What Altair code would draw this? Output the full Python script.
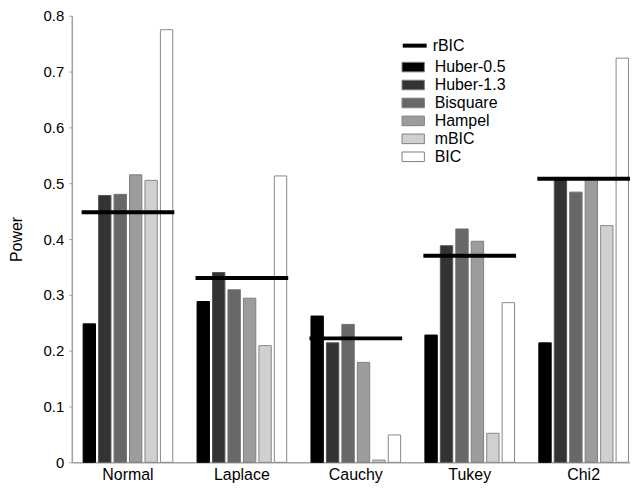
import altair as alt
import pandas as pd

distributions = ["Normal", "Laplace", "Cauchy", "Tukey", "Chi2"]
methods = ["Huber-0.5", "Huber-1.3", "Bisquare", "Hampel", "mBIC", "BIC"]
method_fills = ["#000000", "#333333", "#686868", "#9c9c9c", "#d0d0d0", "#ffffff"]
method_strokes = ["#000000", "#555555", "#707070", "#808080", "#888888", "#888888"]

huber05 = [0.248, 0.288, 0.262, 0.228, 0.214]
huber13 = [0.478, 0.340, 0.214, 0.388, 0.510]
bisquare = [0.480, 0.309, 0.247, 0.418, 0.484]
hampel = [0.515, 0.294, 0.179, 0.396, 0.508]
mbic = [0.505, 0.209, 0.004, 0.052, 0.424]
bic = [0.775, 0.513, 0.049, 0.286, 0.724]
rbic = [0.448, 0.330, 0.222, 0.370, 0.508]

y_ticks = [0, 0.1, 0.2, 0.3, 0.4, 0.5, 0.6, 0.7, 0.8]

series = [huber05, huber13, bisquare, hampel, mbic, bic]
rows = []
for m, vals in zip(methods, series):
    for d, v in zip(distributions, vals):
        rows.append({"dist": d, "method": m, "power": v})
bars_df = pd.DataFrame(rows)
rbic_df = pd.DataFrame({"dist": distributions, "power": rbic, "series": ["rBIC"] * 5})

FONT = "Liberation Sans"

x_scale = alt.Scale(domain=distributions, paddingInner=0.186, paddingOuter=0.043, align=1)
y_scale = alt.Scale(domain=[0, 0.8], nice=False)

x_axis = alt.Axis(title=None, ticks=False, labelPadding=4, labelFontSize=16,
                  labelAngle=0, domainColor="#a0a0a0", domainWidth=1.5)
y_axis = alt.Axis(title="Power", values=y_ticks, format="~g", grid=False, labelFontSize=15,
                  titleFontSize=16, titleFontWeight="normal", titlePadding=19,
                  tickSize=3, tickColor="#a0a0a0", labelPadding=5,
                  domainColor="#a0a0a0", domainWidth=1.5)

rect_path = "M-1.4,-0.6H1.4V0.6H-1.4Z"

bars = alt.Chart(bars_df).mark_bar(strokeWidth=1).encode(
    x=alt.X("dist:N", scale=x_scale, axis=x_axis, sort=distributions),
    xOffset=alt.XOffset("method:N", sort=methods,
                        scale=alt.Scale(domain=methods, paddingInner=0.2, paddingOuter=0.1)),
    y=alt.Y("power:Q", scale=y_scale, axis=y_axis),
    fill=alt.Fill("method:N", sort=methods,
                  scale=alt.Scale(domain=methods, range=method_fills),
                  legend=alt.Legend(title=None, orient="none", legendX=334, legendY=43,
                                    symbolType=rect_path, symbolSize=256,
                                    symbolStrokeColor="#808080", symbolStrokeWidth=1,
                                    labelFontSize=16, labelOffset=13, rowPadding=1,
                                    padding=0)),
    stroke=alt.Stroke("method:N", sort=methods,
                      scale=alt.Scale(domain=methods, range=method_strokes), legend=None),
)

ticks = alt.Chart(rbic_df).mark_tick(size=93, thickness=4, opacity=1).encode(
    x=alt.X("dist:N", scale=x_scale, axis=x_axis, sort=distributions),
    y=alt.Y("power:Q", scale=y_scale, axis=y_axis),
    color=alt.Color("series:N", scale=alt.Scale(domain=["rBIC"], range=["#000000"]),
                    legend=alt.Legend(title=None, orient="none", legendX=330, legendY=16,
                                      symbolType="stroke", symbolSize=576,
                                      symbolStrokeColor="#000000", symbolOpacity=1,
                                      symbolStrokeWidth=4, labelFontSize=16,
                                      labelOffset=4, padding=0)),
)

chart = alt.layer(bars, ticks).resolve_scale(color="independent", fill="independent").properties(
    width=560, height=448,
    padding={"left": 0, "top": 0, "right": 0, "bottom": 0},
).configure(font=FONT).configure_view(stroke=None).configure_legend(labelFont=FONT)

chart.save("out.html", embed_options={"renderer": "svg", "actions": False})
